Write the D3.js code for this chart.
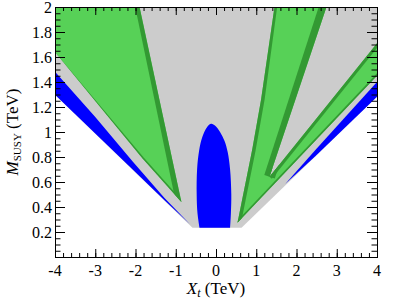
<!DOCTYPE html>
<html lang="en">
<head>
  <meta charset="utf-8">
  <script src="https://d3js.org/d3.v7.min.js"></script>
  <style>
    body { margin: 0; background: #fff; }
    text { font-family: "Liberation Serif", "DejaVu Serif", serif; fill: #000; }
  </style>
  <title>M_SUSY vs X_t</title>
</head>
<body>
<div id="my_dataviz"></div>
<script>
  // tick labels
  const xTicks = [-4, -3, -2, -1, 0, 1, 2, 3, 4];
  const xTickLabels = ["-4", "-3", "-2", "-1", "0", "1", "2", "3", "4"];
  const yTicks = [0.2, 0.4, 0.6, 0.8, 1, 1.2, 1.4, 1.6, 1.8, 2];
  const yTickLabels = ["0.2", "0.4", "0.6", "0.8", "1", "1.2", "1.4", "1.6", "1.8", "2"];

  // regions, [Xt, MSUSY] in TeV
  const grayRegion = [[-4, 2], [4, 2], [4, 1.282], [0.634, 0.234], [-0.584, 0.234], [-4, 1.298]];
  const greenLeft = [[-4, 2], [-1.90, 2], [-0.86, 0.44], [-1.83, 0.79], [-4, 1.64]];
  const greenRight = [[1.453, 2], [2.745, 2], [1.33, 0.642], [4, 1.71], [4, 1.45],
                      [0.534, 0.274], [0.9, 0.86], [1.12, 1.26]];
  const blueLeft = [[-4, 1.482], [-3, 1.12], [-2.07, 0.765], [-1.28, 0.472], [-0.64, 0.26],
                    [-1.28, 0.455], [-2.07, 0.70], [-4, 1.298]];
  const blueRight = [[4, 1.40], [2.48, 0.86], [1.72, 0.585], [2.48, 0.81], [4, 1.282]];
  const blueCore = [[-0.41, 0.234], [-0.46, 0.35], [-0.48, 0.5], [-0.47, 0.7], [-0.42, 0.85],
                    [-0.34, 0.96], [-0.22, 1.04], [-0.12, 1.066], [-0.02, 1.05], [0.1, 1.0],
                    [0.21, 0.93], [0.29, 0.84], [0.35, 0.7], [0.38, 0.5], [0.37, 0.35], [0.35, 0.234]];

  // darker contour edges inside the green regions: [points, width]
  const leftEdges = [
    [[[-1.90, 2.05], [-0.86, 0.44]], 11],
    [[[-0.86, 0.44], [-1.83, 0.79], [-4.05, 1.64]], 3]
  ];
  const rightEdges = [
    [[[1.453, 2.05], [1.12, 1.26], [0.9, 0.86], [0.534, 0.274]], 7],
    [[[2.745, 2.05], [1.33, 0.642]], 11],
    [[[1.33, 0.642], [4.05, 1.73]], 6],
    [[[4.05, 1.47], [0.534, 0.274]], 3]
  ];

  const margin = { top: 7, right: 22, bottom: 44, left: 55 },
    width = 322,
    height = 250;

  const svg = d3.select("#my_dataviz")
    .append("svg")
    .attr("width", 399)
    .attr("height", 301)
    .append("g")
    .attr("transform", `translate(${margin.left},${margin.top})`);

  const x = d3.scaleLinear().domain([-4, 4]).range([0, width]);
  const y = d3.scaleLinear().domain([0, 2]).range([height, 0]);

  const line = d3.line().x(d => x(d[0])).y(d => y(d[1]));
  const poly = pts => line(pts) + "Z";

  const defs = svg.append("defs");
  defs.append("clipPath").attr("id", "plotclip")
    .append("rect").attr("width", width).attr("height", height);
  defs.append("clipPath").attr("id", "clipLeft").append("path").attr("d", poly(greenLeft));
  defs.append("clipPath").attr("id", "clipRight").append("path").attr("d", poly(greenRight));

  const plot = svg.append("g").attr("clip-path", "url(#plotclip)");

  const gray = "#cccccc", green = "#57d157", dark = "#339933", blue = "#0000ff";

  plot.append("path").attr("d", poly(grayRegion)).attr("fill", gray);

  function greenArea(pts, edges, clipId) {
    plot.append("path").attr("d", poly(pts)).attr("fill", green);
    const g = plot.append("g").attr("clip-path", `url(#${clipId})`);
    edges.forEach(e => {
      g.append("path")
        .attr("d", line(e[0]))
        .attr("fill", "none")
        .attr("stroke", dark)
        .attr("stroke-width", e[1])
        .attr("stroke-linejoin", "round");
    });
  }
  greenArea(greenLeft, leftEdges, "clipLeft");
  greenArea(greenRight, rightEdges, "clipRight");

  plot.append("path").attr("d", poly(blueLeft)).attr("fill", blue);
  plot.append("path").attr("d", poly(blueRight)).attr("fill", blue);
  plot.append("path")
    .attr("d", d3.line().x(d => x(d[0])).y(d => y(d[1])).curve(d3.curveCatmullRom)(blueCore) + "Z")
    .attr("fill", blue);

  // axes: major + minor ticks, inward on all four sides
  function ticksOn(axis, g, values, size) {
    g.call(axis.tickValues(values).tickSize(-size).tickSizeOuter(0).tickFormat(""));
    g.select(".domain").remove();
  }
  const xMinor = x.ticks(40), yMinor = y.ticks(40);

  const axBottom = svg.append("g").attr("transform", `translate(0,${height})`);
  ticksOn(d3.axisBottom(x), axBottom.append("g"), xMinor, 4);
  ticksOn(d3.axisBottom(x), axBottom.append("g"), xTicks, 8);
  const axTop = svg.append("g");
  ticksOn(d3.axisTop(x), axTop.append("g"), xMinor, 4);
  ticksOn(d3.axisTop(x), axTop.append("g"), xTicks, 8);
  const axLeft = svg.append("g");
  ticksOn(d3.axisLeft(y), axLeft.append("g"), yMinor, 5.5);
  ticksOn(d3.axisLeft(y), axLeft.append("g"), yTicks, 10);
  const axRight = svg.append("g").attr("transform", `translate(${width},0)`);
  ticksOn(d3.axisRight(y), axRight.append("g"), yMinor, 5.5);
  ticksOn(d3.axisRight(y), axRight.append("g"), yTicks, 10);

  svg.selectAll(".tick line").attr("stroke", "#000");

  svg.append("rect")
    .attr("x", 0.5).attr("y", 0.5)
    .attr("width", width).attr("height", height)
    .attr("fill", "none").attr("stroke", "#000");

  // tick labels
  svg.selectAll(".xlab")
    .data(xTicks)
    .join("text")
    .attr("x", d => x(d))
    .attr("y", height + 19)
    .attr("text-anchor", "middle")
    .style("font-size", "16px")
    .text((d, i) => xTickLabels[i]);

  svg.selectAll(".ylab")
    .data(yTicks)
    .join("text")
    .attr("x", -3)
    .attr("y", d => y(d) + 5.5)
    .attr("text-anchor", "end")
    .style("font-size", "16px")
    .text((d, i) => yTickLabels[i]);

  // axis titles
  const xt = svg.append("text")
    .attr("x", width / 2)
    .attr("y", height + 37)
    .attr("text-anchor", "middle")
    .style("font-size", "17px");
  xt.append("tspan").style("font-style", "italic").text("X");
  xt.append("tspan").style("font-style", "italic").style("font-size", "12px").attr("dy", 3).text("t");
  xt.append("tspan").attr("dy", -3).text(" (TeV)");

  const yt = svg.append("text")
    .attr("transform", `translate(${-37},${height / 2}) rotate(-90)`)
    .attr("text-anchor", "middle")
    .style("font-size", "17px");
  yt.append("tspan").style("font-style", "italic").text("M");
  yt.append("tspan").style("font-size", "11px").attr("dy", 3).text("SUSY");
  yt.append("tspan").attr("dy", -3).text(" (TeV)");
</script>
</body>
</html>
